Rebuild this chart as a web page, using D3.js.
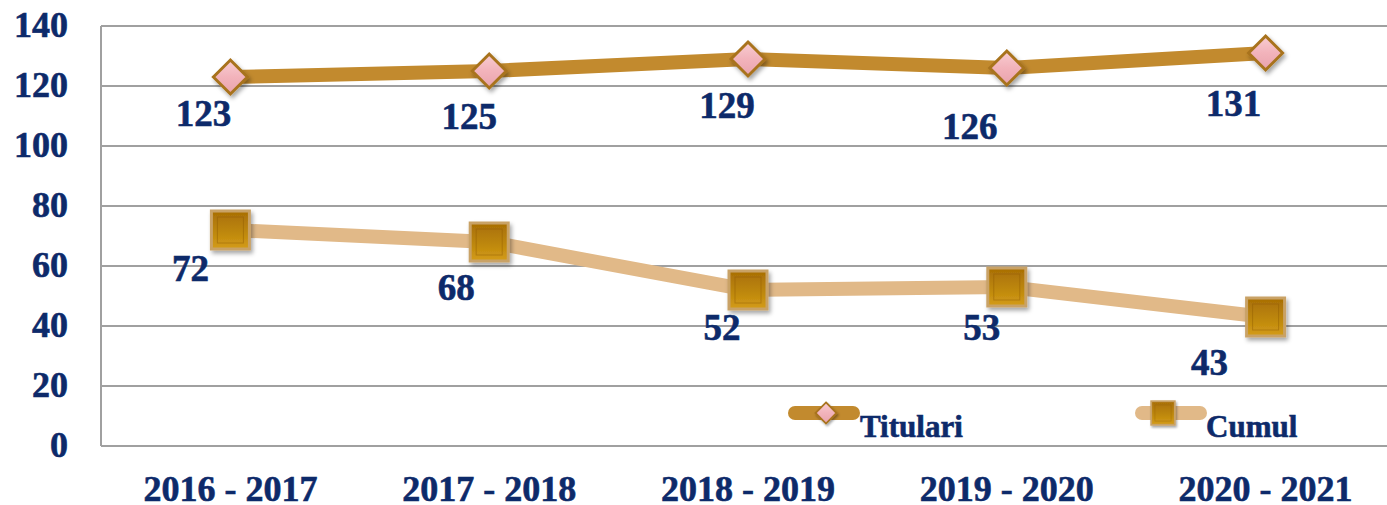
<!DOCTYPE html>
<html>
<head>
<meta charset="utf-8">
<script src="https://cdn.jsdelivr.net/npm/d3@7"></script>
<style>
  body { margin: 0; background: #fff; }
  #plot { width: 1387px; height: 505px; }
  text { font-family: "Liberation Serif", "Times New Roman", serif; font-weight: bold; fill: #0d2a6a; }
</style>
</head>
<body>
<div id="plot"></div>
<script>
// chart data
const years = ["2016 - 2017", "2017 - 2018", "2018 - 2019", "2019 - 2020", "2020 - 2021"];
const titulari = [123, 125, 129, 126, 131];
const cumul = [72, 68, 52, 53, 43];
const yTicks = [0, 20, 40, 60, 80, 100, 120, 140];

// label nudges (pixels) as placed in the original
const titulariNudge = [[-27, 36], [-20, 45], [-21, 46], [-37, 58], [-32, 50]];
const cumulNudge = [[-40, 38], [-33, 45], [-26, 37], [-25, 40], [-56, 45]];

function plotData() {
    const width = 1387, height = 505;
    const margin = { top: 26, right: -8, bottom: 59, left: 101 };
    const innerWidth = width - margin.left - margin.right;
    const innerHeight = height - margin.top - margin.bottom;

    const root = d3.select("#plot").append("svg")
        .attr("width", width)
        .attr("height", height);

    // gradients + shadow
    const defs = root.append("defs");
    const f = defs.append("filter").attr("id", "shadow")
        .attr("x", "-50%").attr("y", "-50%").attr("width", "200%").attr("height", "200%");
    f.append("feDropShadow").attr("dx", 2).attr("dy", 3).attr("stdDeviation", 2)
        .attr("flood-color", "#000").attr("flood-opacity", 0.35);

    const gPink = defs.append("linearGradient").attr("id", "pink")
        .attr("x1", 0).attr("y1", 0).attr("x2", 0).attr("y2", 1);
    gPink.append("stop").attr("offset", "0%").attr("stop-color", "#f8cdd2");
    gPink.append("stop").attr("offset", "50%").attr("stop-color", "#f2b3bb");
    gPink.append("stop").attr("offset", "100%").attr("stop-color", "#e9a3ad");

    const gGold = defs.append("linearGradient").attr("id", "gold")
        .attr("x1", 0).attr("y1", 0).attr("x2", 0).attr("y2", 1);
    gGold.append("stop").attr("offset", "0%").attr("stop-color", "#a86e05");
    gGold.append("stop").attr("offset", "55%").attr("stop-color", "#bd870c");
    gGold.append("stop").attr("offset", "100%").attr("stop-color", "#d49c18");

    const svg = root.append("g")
        .attr("transform", `translate(${margin.left},${margin.top})`);

    const x = d3.scaleBand().domain(years).range([0, innerWidth]);
    const y = d3.scaleLinear().domain([0, 140]).range([innerHeight, 0]);

    // gridlines
    svg.selectAll(".grid")
        .data(yTicks)
        .enter()
        .append("line")
        .attr("x1", 0)
        .attr("x2", innerWidth)
        .attr("y1", d => y(d))
        .attr("y2", d => y(d))
        .attr("stroke", "#a0a0a0")
        .attr("stroke-width", 2);

    svg.append("line")
        .attr("x1", 0).attr("x2", 0)
        .attr("y1", 0).attr("y2", innerHeight)
        .attr("stroke", "#a0a0a0")
        .attr("stroke-width", 2);

    const boldText = sel => sel
        .style("font-family", "Liberation Serif, serif")
        .style("font-weight", "bold")
        .attr("fill", "#0d2a6a")
        .attr("stroke", "#0d2a6a")
        .attr("stroke-width", 0.6);

    // y axis labels
    const yAxis = svg.append("g")
        .call(d3.axisLeft(y).tickValues(yTicks).tickSize(0).tickPadding(33));
    yAxis.select(".domain").remove();
    yAxis.selectAll("text")
        .style("font-size", "36px")
        .attr("dy", "0.3em")
        .call(boldText);

    // x axis labels
    const xAxis = svg.append("g")
        .attr("transform", `translate(0,${innerHeight})`)
        .call(d3.axisBottom(x).tickSize(0).tickPadding(29));
    xAxis.select(".domain").remove();
    xAxis.selectAll("text")
        .style("font-size", "36px")
        .call(boldText);

    const cx = d => x(d) + x.bandwidth() / 2;

    const series = [
        { name: "Titulari", values: titulari, nudge: titulariNudge, color: "#c28a2e", marker: "diamond" },
        { name: "Cumul", values: cumul, nudge: cumulNudge, color: "#e1b988", marker: "square" }
    ];

    function drawMarker(g, type) {
        if (type === "diamond") {
            g.append("path")
                .attr("d", "M0,-17 L17,0 L0,17 L-17,0 Z")
                .attr("fill", "url(#pink)")
                .attr("stroke", "#a8731f")
                .attr("stroke-width", 3)
                .attr("filter", "url(#shadow)");
        } else {
            g.append("rect")
                .attr("x", -19).attr("y", -19)
                .attr("width", 38).attr("height", 38)
                .attr("fill", "url(#gold)")
                .attr("stroke", "#c9a266")
                .attr("stroke-width", 3)
                .attr("filter", "url(#shadow)");
            g.append("rect")
                .attr("x", -13).attr("y", -13)
                .attr("width", 26).attr("height", 26)
                .attr("fill", "none")
                .attr("stroke", "#8f5c03")
                .attr("stroke-opacity", 0.45)
                .attr("stroke-width", 1);
        }
    }

    series.forEach(s => {
        svg.append("path")
            .datum(s.values)
            .attr("fill", "none")
            .attr("stroke", s.color)
            .attr("stroke-width", 14)
            .attr("d", d3.line()
                .x((d, i) => cx(years[i]))
                .y(d => y(d)));
    });

    series.forEach(s => {
        s.values.forEach((v, i) => {
            const g = svg.append("g")
                .attr("transform", `translate(${cx(years[i])},${y(v)})`);
            drawMarker(g, s.marker);
            svg.append("text")
                .attr("x", cx(years[i]) + s.nudge[i][0])
                .attr("y", y(v) + s.nudge[i][1])
                .attr("text-anchor", "middle")
                .attr("dy", "0.35em")
                .style("font-size", "37px")
                .call(boldText)
                .text(v);
        });
    });

    // legend
    const legendX = [694, 1041];
    series.forEach((s, i) => {
        const lg = svg.append("g")
            .attr("transform", `translate(${legendX[i]},${y(11)})`);
        lg.append("line")
            .attr("x1", 0).attr("x2", 58)
            .attr("y1", 0).attr("y2", 0)
            .attr("stroke", s.color)
            .attr("stroke-width", 14)
            .attr("stroke-linecap", "round");
        const m = lg.append("g").attr("transform", `translate(${s.marker === "diamond" ? 31 : 21},0) scale(0.62)`);
        drawMarker(m, s.marker);
        lg.append("text")
            .attr("x", s.marker === "diamond" ? 65 : 64)
            .attr("y", 24)
            .style("font-size", "31px")
            .call(boldText)
            .text(s.name);
    });
}

plotData();
</script>
</body>
</html>
